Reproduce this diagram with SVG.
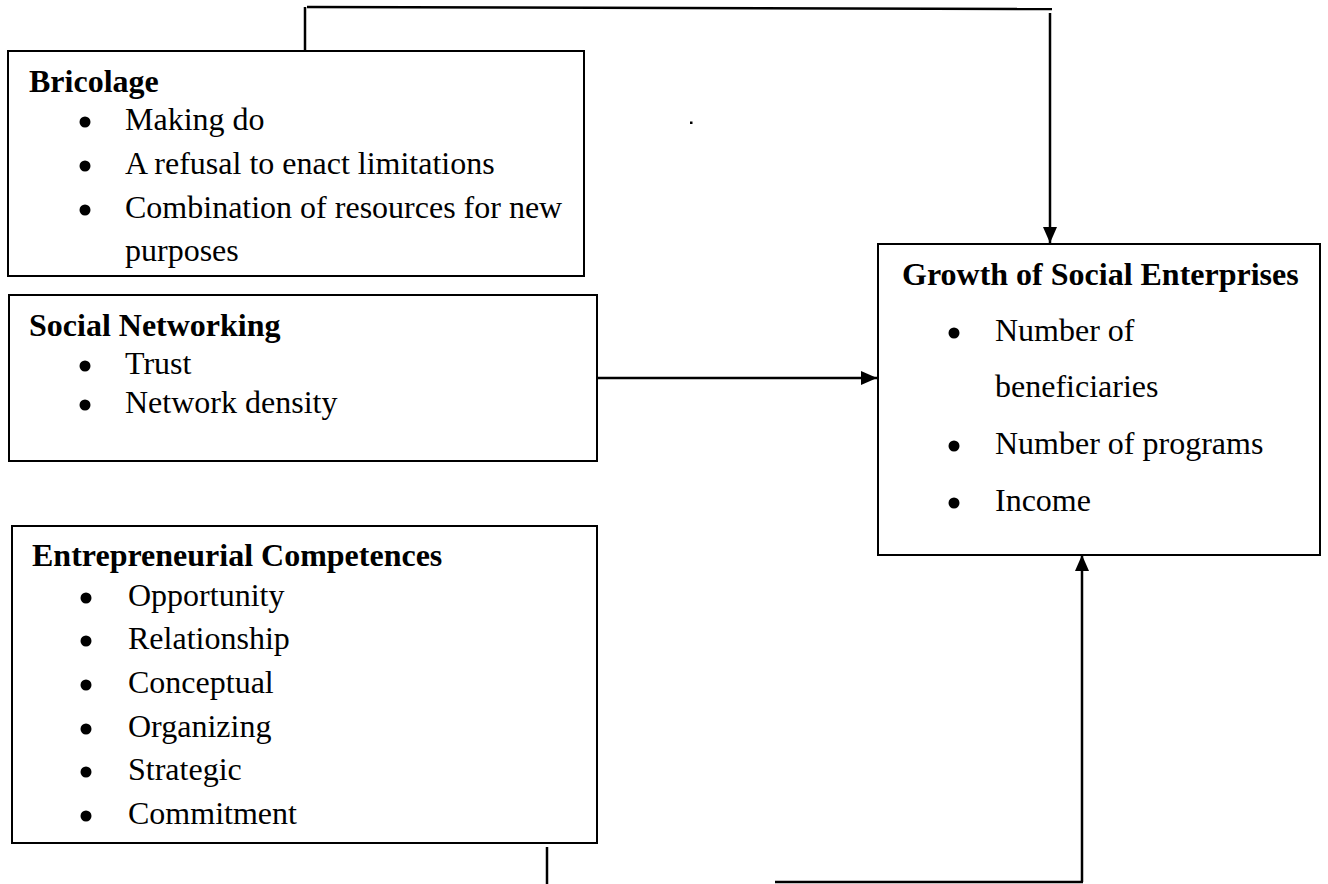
<svg xmlns="http://www.w3.org/2000/svg" width="1328" height="884" viewBox="0 0 1328 884">
<style>
.box{fill:#fff;stroke:#000;stroke-width:2}
.t{font-family:"Liberation Serif","Times New Roman",serif;font-size:32px;fill:#000}
.b{font-weight:bold}
.bul{fill:#000}
.ln{fill:none;stroke:#000;stroke-width:2.5}
</style>
<defs>
<marker id="ah" markerWidth="16" markerHeight="16" viewBox="0 0 16 16" refX="16" refY="8" orient="auto" markerUnits="userSpaceOnUse">
<path d="M0,1 L16,8 L0,15 Z" fill="#000"/>
</marker>
</defs>
<g id="connectors">
<line class="ln" x1="305" y1="7" x2="305" y2="57"/>
<line class="ln" x1="307" y1="7" x2="1052" y2="9"/>
<line class="ln" x1="1050" y1="13" x2="1050" y2="243" marker-end="url(#ah)"/>
<line class="ln" x1="597" y1="378" x2="877" y2="378" marker-end="url(#ah)"/>
<line class="ln" x1="547" y1="847" x2="547" y2="884"/>
<line class="ln" x1="775" y1="882" x2="1083" y2="882"/>
<line class="ln" x1="1082" y1="882" x2="1082" y2="555" marker-end="url(#ah)"/>
</g>
<g id="bricolage">
<rect class="box" x="8" y="51" width="576" height="225"/>
<text class="t b" x="29" y="92">Bricolage</text>
<circle class="bul" cx="85" cy="122" r="5.5"/>
<text class="t" x="125" y="130">Making do</text>
<circle class="bul" cx="85" cy="166" r="5.5"/>
<text class="t" x="125" y="174">A refusal to enact limitations</text>
<circle class="bul" cx="85" cy="210" r="5.5"/>
<text class="t" x="125" y="218">Combination of resources for new</text>
<text class="t" x="125" y="261">purposes</text>
</g>
<g id="social-networking">
<rect class="box" x="9" y="295" width="588" height="166"/>
<text class="t b" x="29" y="336">Social Networking</text>
<circle class="bul" cx="85" cy="366" r="5.5"/>
<text class="t" x="125" y="374">Trust</text>
<circle class="bul" cx="85" cy="405" r="5.5"/>
<text class="t" x="125" y="413">Network density</text>
</g>
<g id="entrepreneurial-competences">
<rect class="box" x="12" y="526" width="585" height="317"/>
<text class="t b" x="32" y="566">Entrepreneurial Competences</text>
<circle class="bul" cx="86" cy="598" r="5.5"/>
<text class="t" x="128" y="606">Opportunity</text>
<circle class="bul" cx="86" cy="641" r="5.5"/>
<text class="t" x="128" y="649">Relationship</text>
<circle class="bul" cx="86" cy="685" r="5.5"/>
<text class="t" x="128" y="693">Conceptual</text>
<circle class="bul" cx="86" cy="729" r="5.5"/>
<text class="t" x="128" y="737">Organizing</text>
<circle class="bul" cx="86" cy="772" r="5.5"/>
<text class="t" x="128" y="780">Strategic</text>
<circle class="bul" cx="86" cy="816" r="5.5"/>
<text class="t" x="128" y="824">Commitment</text>
</g>
<g id="growth">
<rect class="box" x="878" y="244" width="442" height="311"/>
<text class="t b" x="902" y="285">Growth of Social Enterprises</text>
<circle class="bul" cx="954" cy="333" r="5.5"/>
<text class="t" x="995" y="341">Number of</text>
<text class="t" x="995" y="397">beneficiaries</text>
<circle class="bul" cx="954" cy="446" r="5.5"/>
<text class="t" x="995" y="454">Number of programs</text>
<circle class="bul" cx="954" cy="503" r="5.5"/>
<text class="t" x="995" y="511">Income</text>
</g>
<rect x="690" y="121.5" width="2.5" height="2.5" fill="#000"/>
</svg>
